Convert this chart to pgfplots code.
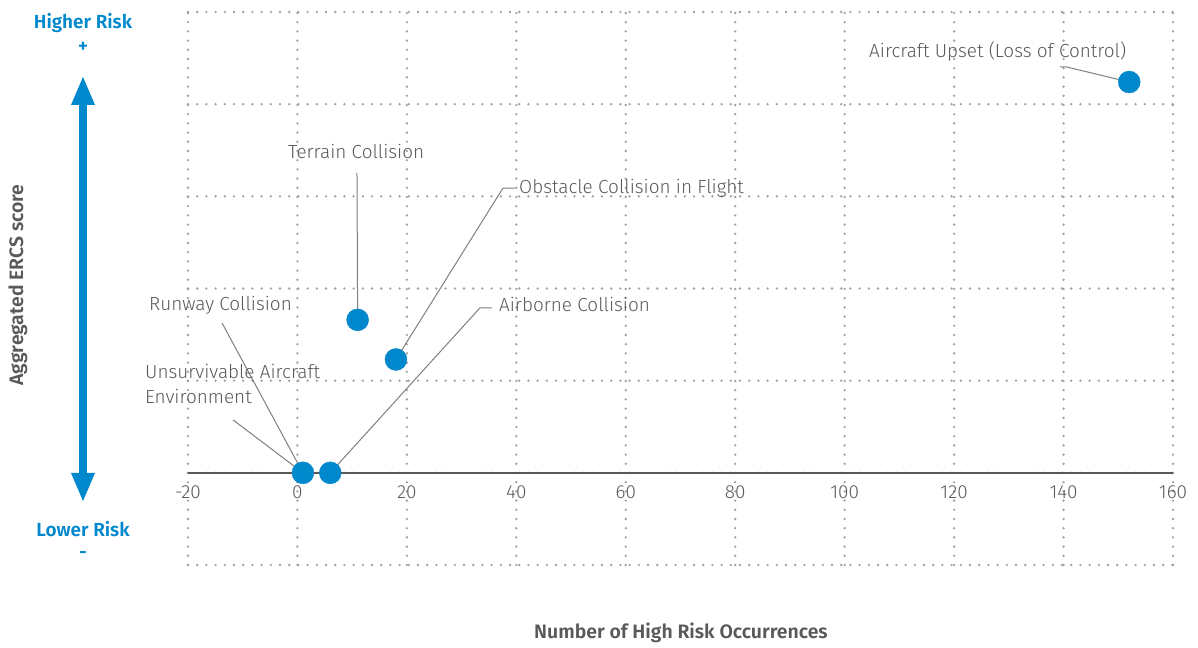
\documentclass[border=0pt]{standalone}
\usepackage{fontspec}
\setmainfont{Fira Sans}[UprightFont=* Light, BoldFont=* SemiBold]
\usepackage{pgfplots}
\pgfplotsset{compat=1.18}
\definecolor{riskblue}{HTML}{0088CC}
\definecolor{txtgray}{HTML}{595959}
\definecolor{gridgray}{HTML}{A0A0A0}
\definecolor{leadgray}{HTML}{7F7F7F}
\begin{document}
\begin{tikzpicture}
\path[use as bounding box] (0bp,0bp) rectangle (1198bp,648bp);
% left annotations
\tikzset{risk/.style={text=riskblue, font=\fontsize{19}{22}\selectfont\bfseries}}
\node[risk] at (83bp,625bp) {Higher Risk};
\node[risk] at (83bp,601bp) {+};
\node[risk] at (83bp,119bp) {Lower Risk};
\node[risk] at (83bp,93bp) {-};
\draw[riskblue, line width=8bp] (83bp,545bp) -- (83bp,173bp);
\fill[riskblue] (71bp,543bp) -- (95bp,543bp) -- (83bp,571bp) -- cycle;
\fill[riskblue] (71bp,175bp) -- (95bp,175bp) -- (83bp,147bp) -- cycle;
\node[rotate=90, text=txtgray, font=\fontsize{19.5}{22}\selectfont\bfseries] at (18bp,363bp) {Aggregated ERCS score};
\node[text=txtgray, font=\fontsize{19.5}{22}\selectfont\bfseries] at (681bp,15bp) {Number of High Risk Occurrences};
\begin{axis}[
  at={(188bp,83bp)}, anchor=south west,
  scale only axis, width=985bp, height=553bp,
  xmin=-20, xmax=160, ymin=-1, ymax=5,
  axis x line=middle, axis y line=left,
  hide obscured x ticks=false, hide obscured y ticks=false,
  x axis line style={draw=txtgray, line width=1.5bp, -},
  y axis line style={draw=none},
  xtick={-20,0,...,160}, ytick={-1,0,...,5}, yticklabels={},
  major tick length=0pt,
  grid=major,
  major grid style={draw=gridgray, line width=2.6bp, line cap=round, dash pattern=on 0bp off 9.2bp},
  xticklabel style={text=txtgray, font=\fontsize{19}{22}\selectfont, yshift=-9bp},
  /pgf/number format/assume math mode=true,
  clip=false,
]
\draw[leadgray, line width=1bp] (axis cs:139.35,4.405) -- (axis cs:140.45,4.405) -- (axis cs:152,4.24);
\draw[leadgray, line width=1bp] (axis cs:10.88,3.255) -- (axis cs:11,1.66);
\draw[leadgray, line width=1bp] (axis cs:39.76,3.09) -- (axis cs:37.56,3.09) -- (axis cs:18,1.23);
\draw[leadgray, line width=1bp] (axis cs:35.55,1.79) -- (axis cs:33.36,1.79) -- (axis cs:6,0);
\draw[leadgray, line width=1bp] (axis cs:-13.79,1.627) -- (axis cs:1,0);
\draw[leadgray, line width=1bp] (axis cs:-11.78,0.575) -- (axis cs:1,0);
\addplot[only marks, mark=*, mark size=11bp, color=riskblue, mark options={draw=riskblue, fill=riskblue}]
  coordinates {(152,4.24) (11,1.66) (18,1.23) (1,0) (6,0)};
\tikzset{lbl/.style={anchor=west, inner sep=0pt, text=txtgray, font=\fontsize{19}{25}\selectfont}}
\node[lbl] at (axis cs:104.45,4.568) {Aircraft Upset (Loss of Control)};
\node[lbl] at (axis cs:-1.73,3.483) {Terrain Collision};
\node[lbl] at (axis cs:40.49,3.09) {Obstacle Collision in Flight};
\node[lbl] at (axis cs:36.83,1.823) {Airborne Collision};
\node[lbl] at (axis cs:-27.13,1.823) {Runway Collision};
\node[lbl, align=left] at (axis cs:-27.86,0.96) {Unsurvivable Aircraft\\Environment};
\end{axis}
\end{tikzpicture}
\end{document}
